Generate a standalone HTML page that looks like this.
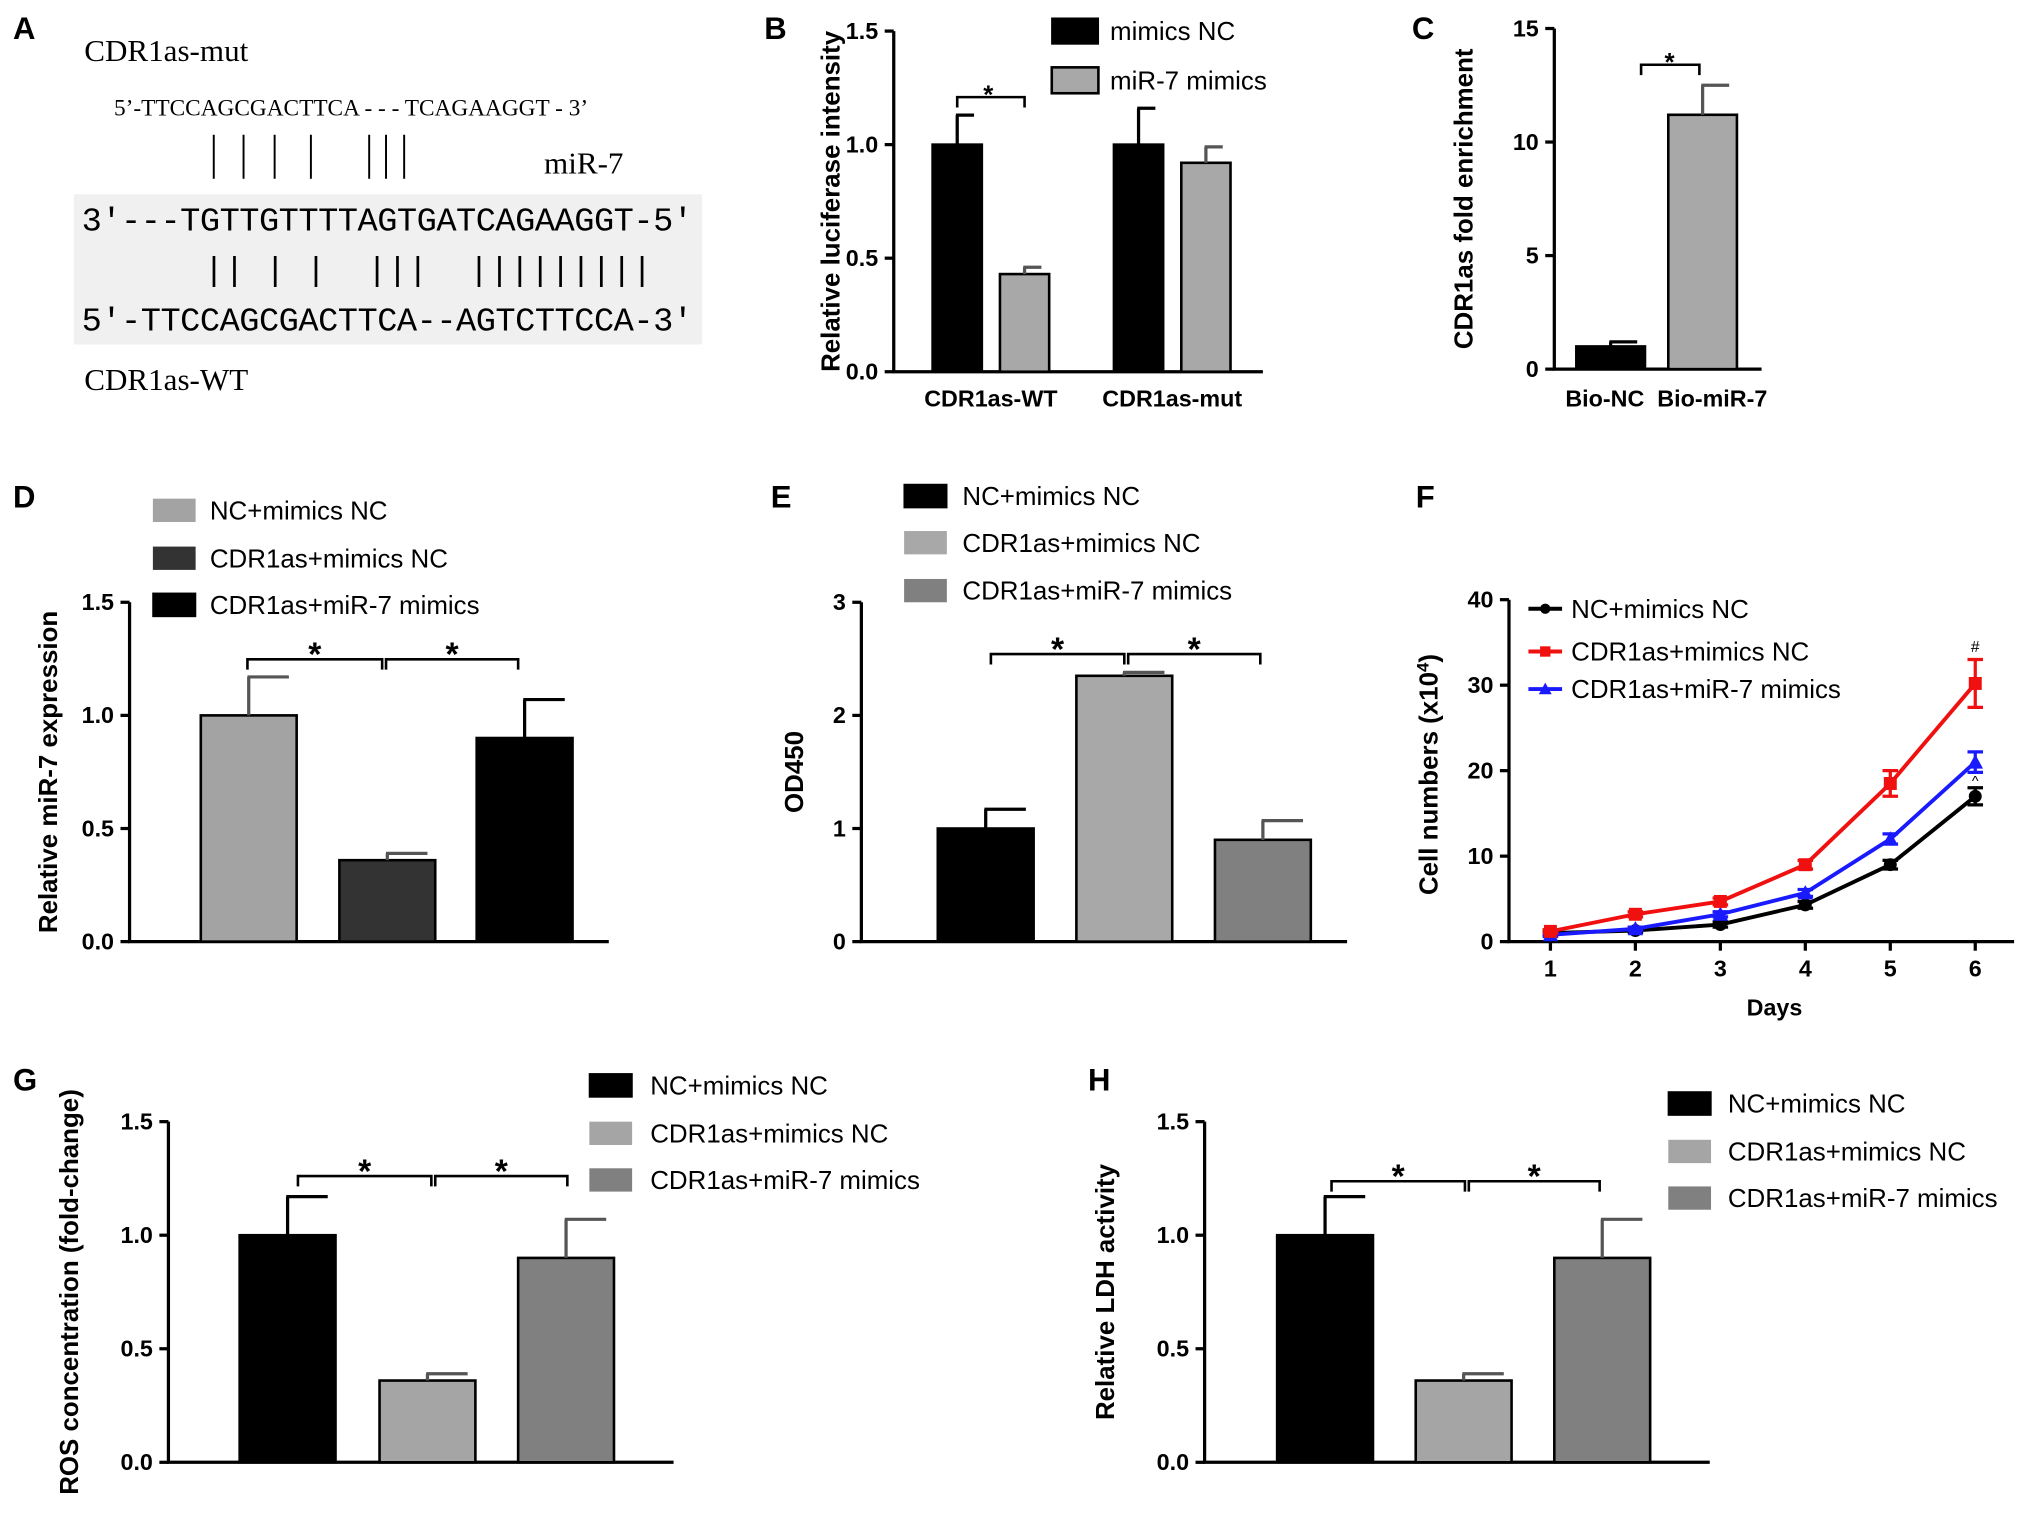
<!DOCTYPE html>
<html><head><meta charset="utf-8">
<style>
html,body{margin:0;padding:0;background:#fff;}
svg{display:block;}
text{font-family:"Liberation Sans",sans-serif;}
.tick{font-size:18px;font-weight:bold;text-anchor:end;}
.ytitle{font-size:20px;font-weight:bold;text-anchor:middle;}
.leg{font-size:20px;}
.pl{font-size:24px;font-weight:bold;}
.xl{font-size:18px;font-weight:bold;text-anchor:middle;}
.ser{font-family:"Liberation Serif",serif;}
.mono{font-family:"Liberation Mono",monospace;font-size:26px;}
</style></head>
<body>
<svg id="fig" width="2031" height="1518" viewBox="0 0 1568 1172" xmlns="http://www.w3.org/2000/svg">
<g>
<text class="pl" x="10" y="30">A</text>
<text class="ser" x="65" y="47" font-size="24">CDR1as-mut</text>
<text class="ser" x="88" y="89" font-size="18">5’-TTCCAGCGACTTCA - - - TCAGAAGGT - 3’</text>
<path d="M165 104V138M188 104V138M212 104V138M240 104V138M285 104V138M298 104V138M312 104V138" stroke="#000" stroke-width="1.5"/>
<text class="ser" x="420" y="134" font-size="24">miR-7</text>
<rect x="57" y="150" width="485" height="116" fill="#f0f0f0"/>
<text class="mono" x="63" y="178" textLength="472">3'---TGTTGTTTTAGTGATCAGAAGGT-5'</text>
<text class="mono" x="63" y="216" textLength="472" xml:space="preserve">      || | |  |||  |||||||||  </text>
<text class="mono" x="63" y="255" textLength="472">5'-TTCCAGCGACTTCA--AGTCTTCCA-3'</text>
<text class="ser" x="65" y="301" font-size="24">CDR1as-WT</text>
</g>
<g id="charts"></g>
</svg>
<script>
// Panel B
const bCats=['CDR1as-WT','CDR1as-mut'];
const bNC=[1.0,1.0];
const bNCerr=[0.13,0.16];
const bMim=[0.43,0.92];
const bMimErr=[0.03,0.07];
const bTicks=['0.0','0.5','1.0','1.5'];
// Panel C
const cCats=['Bio-NC','Bio-miR-7'];
const cVals=[1.0,11.2];
const cErr=[0.2,1.3];
const cTicks=['0','5','10','15'];
// Panel D / E / G / H
const groups=['NC+mimics NC','CDR1as+mimics NC','CDR1as+miR-7 mimics'];
const dVals=[1.0,0.36,0.9];
const dErr=[0.17,0.03,0.17];
const eVals=[1.0,2.35,0.9];
const eErr=[0.17,0.03,0.17];
const gVals=[1.0,0.36,0.9];
const gErr=[0.17,0.03,0.17];
const hVals=[1.0,0.36,0.9];
const hErr=[0.17,0.03,0.17];
const ticks15=['0.0','0.5','1.0','1.5'];
const eTicks=['0','1','2','3'];
// Panel F
const fDays=[1,2,3,4,5,6];
const fNC=[1.0,1.3,2.0,4.3,9.0,17.0];
const fNCerr=[0.2,0.2,0.3,0.4,0.5,1.0];
const fCD=[1.2,3.2,4.7,9.0,18.5,30.2];
const fCDerr=[0.2,0.3,0.4,0.5,1.5,2.8];
const fMi=[0.8,1.5,3.2,5.7,12.0,21.0];
const fMiErr=[0.2,0.2,0.3,0.4,0.6,1.2];
const fTicks=['0','10','20','30','40'];

const NS='http://www.w3.org/2000/svg';
const root=document.getElementById('charts');
function el(tag,attrs,parent,txt){const e=document.createElementNS(NS,tag);for(const k in attrs)e.setAttribute(k,attrs[k]);if(txt!==undefined)e.textContent=txt;(parent||root).appendChild(e);return e;}

function axes(g,x0,x1,y0,y1,ticks,max,title,tx){
  const sy=v=>y0-(v/max)*(y0-y1);
  const a=el('path',{d:`M${x0} ${y1}V${y0}H${x1}`,stroke:'#000','stroke-width':2.5,fill:'none'},g);
  
  
  ticks.forEach((t,i)=>{const v=max*i/(ticks.length-1);const y=sy(v);
    const l=el('line',{x1:x0-7,x2:x0,y1:y,y2:y,stroke:'#000','stroke-width':2.5},g);
    
    
    const tt=el('text',{class:'tick',x:x0-12,y:y+6},g,t);
    
    });
  const ti=el('text',{class:'ytitle',transform:`translate(${tx},${(y0+y1)/2}) rotate(-90)`},g,title);
  
  
  return sy;
}
function bar(g,x,w,v,err,sy,fill,name){
  const r=el('rect',{x:x,y:sy(v),width:w,height:sy(0)-sy(v),fill:fill,stroke:'#000','stroke-width':2},g);
  
  
  const cx=x+w/2;
  const e=el('path',{d:`M${cx} ${sy(v)}V${sy(v+err)}M${cx-1} ${sy(v+err)}H${x+w-6}`,stroke:fill=='#000'?'#000':'#555','stroke-width':2.5,fill:'none'},g);
  
  
}
function bracket(g,x1,x2,y,sx,sy,fs){
  const p=el('path',{d:`M${x1} ${y+8}V${y}H${x2}V${y+8}`,stroke:'#000','stroke-width':2,fill:'none'},g);
  
  
  const s=el('text',{x:sx,y:sy,'font-size':fs,'text-anchor':'middle','font-weight':'bold'},g,'*');
  
  
}
function legendRect(g,x,y,w,h,fill,label,tx,ty){
  const r=el('rect',{x:x,y:y,width:w,height:h,fill:fill,stroke:fill=='#000'?'#000':'none'},g);
  
  
  const t=el('text',{class:'leg',x:tx,y:ty},g,label);
  
  
}
function panelLabel(g,l,x,y){const t=el('text',{class:'pl',x:x,y:y},g,l);
  
  }
function xlabel(g,x,y,t){const e=el('text',{class:'xl',x:x,y:y},g,t);
  
  }

// B
{const g=el('g',{});
panelLabel(g,'B',590,30);
const sy=axes(g,690,975,287,24,bTicks,1.5,'Relative luciferase intensity',648);
const gx=[720,860];
bCats.forEach((c,i)=>{bar(g,gx[i],38,bNC[i],bNCerr[i],sy,'#000','bar-mimics-nc');
 bar(g,gx[i]+52,38,bMim[i],bMimErr[i],sy,'#a8a8a8','bar-mir7-mimics');
 xlabel(g,gx[i]+45,314,c);});
legendRect(g,812,14,36,20,'#000','mimics NC',857,31);
legendRect(g,812,52,36,20,'#a8a8a8','miR-7 mimics',857,69);
el('rect',{x:812,y:52,width:36,height:20,fill:'none',stroke:'#000','stroke-width':2},g);
bracket(g,739,791,75,763,80,20);}

// C
{const g=el('g',{});
panelLabel(g,'C',1090,30);
const sy=axes(g,1200,1360,285,22,cTicks,15,'CDR1as  fold enrichment',1137);
const cx=[1217,1288];const cf=['#000','#a8a8a8'];
cCats.forEach((c,i)=>{bar(g,cx[i],53,cVals[i],cErr[i],sy,cf[i],'bar-'+c.toLowerCase());xlabel(g,cx[i]+22+(i?12:0),314,c);});
bracket(g,1267,1312,50,1289,55,20);}

function groupPanel(L,x0,yAxisX1,vals,errs,ticks,max,title,tx,fills,bx,legX,legY,legTx,br,lx,ly){
 const g=el('g',{});
 panelLabel(g,L,lx,ly);
 const sy=axes(g,x0,yAxisX1,727+(L>'F'?402:0),465+(L>'F'?401:0),ticks,max,title,tx);
 vals.forEach((v,i)=>bar(g,bx[i],74,v,errs[i],sy,fills[i],'bar-'+['nc-mimics-nc','cdr1as-mimics-nc','cdr1as-mir7-mimics'][i]));
 groups.forEach((n,i)=>legendRect(g,legX,legY[i],33,18,fills[i],n,legTx,legY[i]+16));
 bracket(g,br[0],br[1],br[4],(br[0]+br[1])/2,br[4]+5,26);
 bracket(g,br[2],br[3],br[4],(br[2]+br[3])/2,br[4]+5,26);
}
groupPanel('D',100,470,dVals,dErr,ticks15,1.5,'Relative miR-7 expression',44,['#a3a3a3','#333','#000'],[155,262,368],118,[385,422,458],162,[191,295,298,400,509],10,392);
groupPanel('E',665,1040,eVals,eErr,eTicks,3,'OD450',620,['#000','#a8a8a8','#808080'],[724,831,938],698,[374,410,447],743,[765,868,871,973,505],595,392);
groupPanel('G',130,520,gVals,gErr,ticks15,1.5,'ROS concentration (fold-change)',60,['#000','#a5a5a5','#808080'],[185,293,400],455,[829,866,902],502,[230,333,336,438,908],10,842);
groupPanel('H',930,1320,hVals,hErr,ticks15,1.5,'Relative LDH activity',860,['#000','#a5a5a5','#808080'],[986,1093,1200],1288,[843,880,916],1334,[1028,1131,1134,1235,912],840,842);

// F
{const g=el('g',{});
panelLabel(g,'F',1093,392);
const sy=axes(g,1165,1555,727,463,fTicks,40,'',1108);
const t=el('text',{class:'ytitle',transform:'translate(1110,598) rotate(-90)'},g);
t.innerHTML='Cell numbers (x10<tspan dy="-7" font-size="13">4</tspan><tspan dy="7">)</tspan>';


const sx=d=>1197+(d-1)*65.6;
fDays.forEach(d=>{const l=el('line',{x1:sx(d),x2:sx(d),y1:727,y2:734,stroke:'#000','stroke-width':2.5},g);
 
 xlabel(g,sx(d),754,String(d));});
const dl=el('text',{class:'xl',x:1370,y:784,'font-size':20},g,'Days');

const series=[[fNC,fNCerr,'#000','circle','NC+mimics NC',470],[fMi,fMiErr,'#1a1aff','tri','CDR1as+miR-7 mimics',532],[fCD,fCDerr,'#f01010','sq','CDR1as+mimics NC',503]];
series.forEach(([v,e,c,m,n,ly])=>{
 const ln=el('polyline',{points:fDays.map((d,i)=>sx(d)+','+sy(v[i])).join(' '),fill:'none',stroke:c,'stroke-width':3},g);
 
 
 fDays.forEach((d,i)=>{const x=sx(d),y=sy(v[i]);
  const eb=el('path',{d:`M${x} ${sy(v[i]-e[i])}V${sy(v[i]+e[i])}M${x-6} ${sy(v[i]-e[i])}h12M${x-6} ${sy(v[i]+e[i])}h12`,stroke:c,'stroke-width':2.5,fill:'none'},g);
  
  let mk;
  if(m=='circle')mk=el('circle',{cx:x,cy:y,r:5,fill:c},g);
  else if(m=='sq')mk=el('rect',{x:x-5,y:y-5,width:10,height:10,fill:c},g);
  else mk=el('path',{d:`M${x} ${y-6}L${x+6} ${y+5}H${x-6}Z`,fill:c},g);
  });
 const ll=el('line',{x1:1180,x2:1206,y1:ly,y2:ly,stroke:c,'stroke-width':3},g);
 
 const lm=m=='circle'?el('circle',{cx:1193,cy:ly,r:4,fill:c},g):m=='sq'?el('rect',{x:1189,y:ly-4,width:8,height:8,fill:c},g):el('path',{d:`M1193 ${ly-5}L1198 ${ly+4}H1188Z`,fill:c},g);
 
 const lt=el('text',{class:'leg','font-size':19,x:1213,y:ly+7},g,n);
 });
const h=el('text',{x:sx(6),y:sy(fCD[5]+fCDerr[5])-6,'font-size':12,'text-anchor':'middle'},g,'#');

const c=el('text',{x:sx(6),y:sy(fMi[5]-fMiErr[5])+10,'font-size':11,'text-anchor':'middle'},g,'^');
}
</script>
</body></html>
